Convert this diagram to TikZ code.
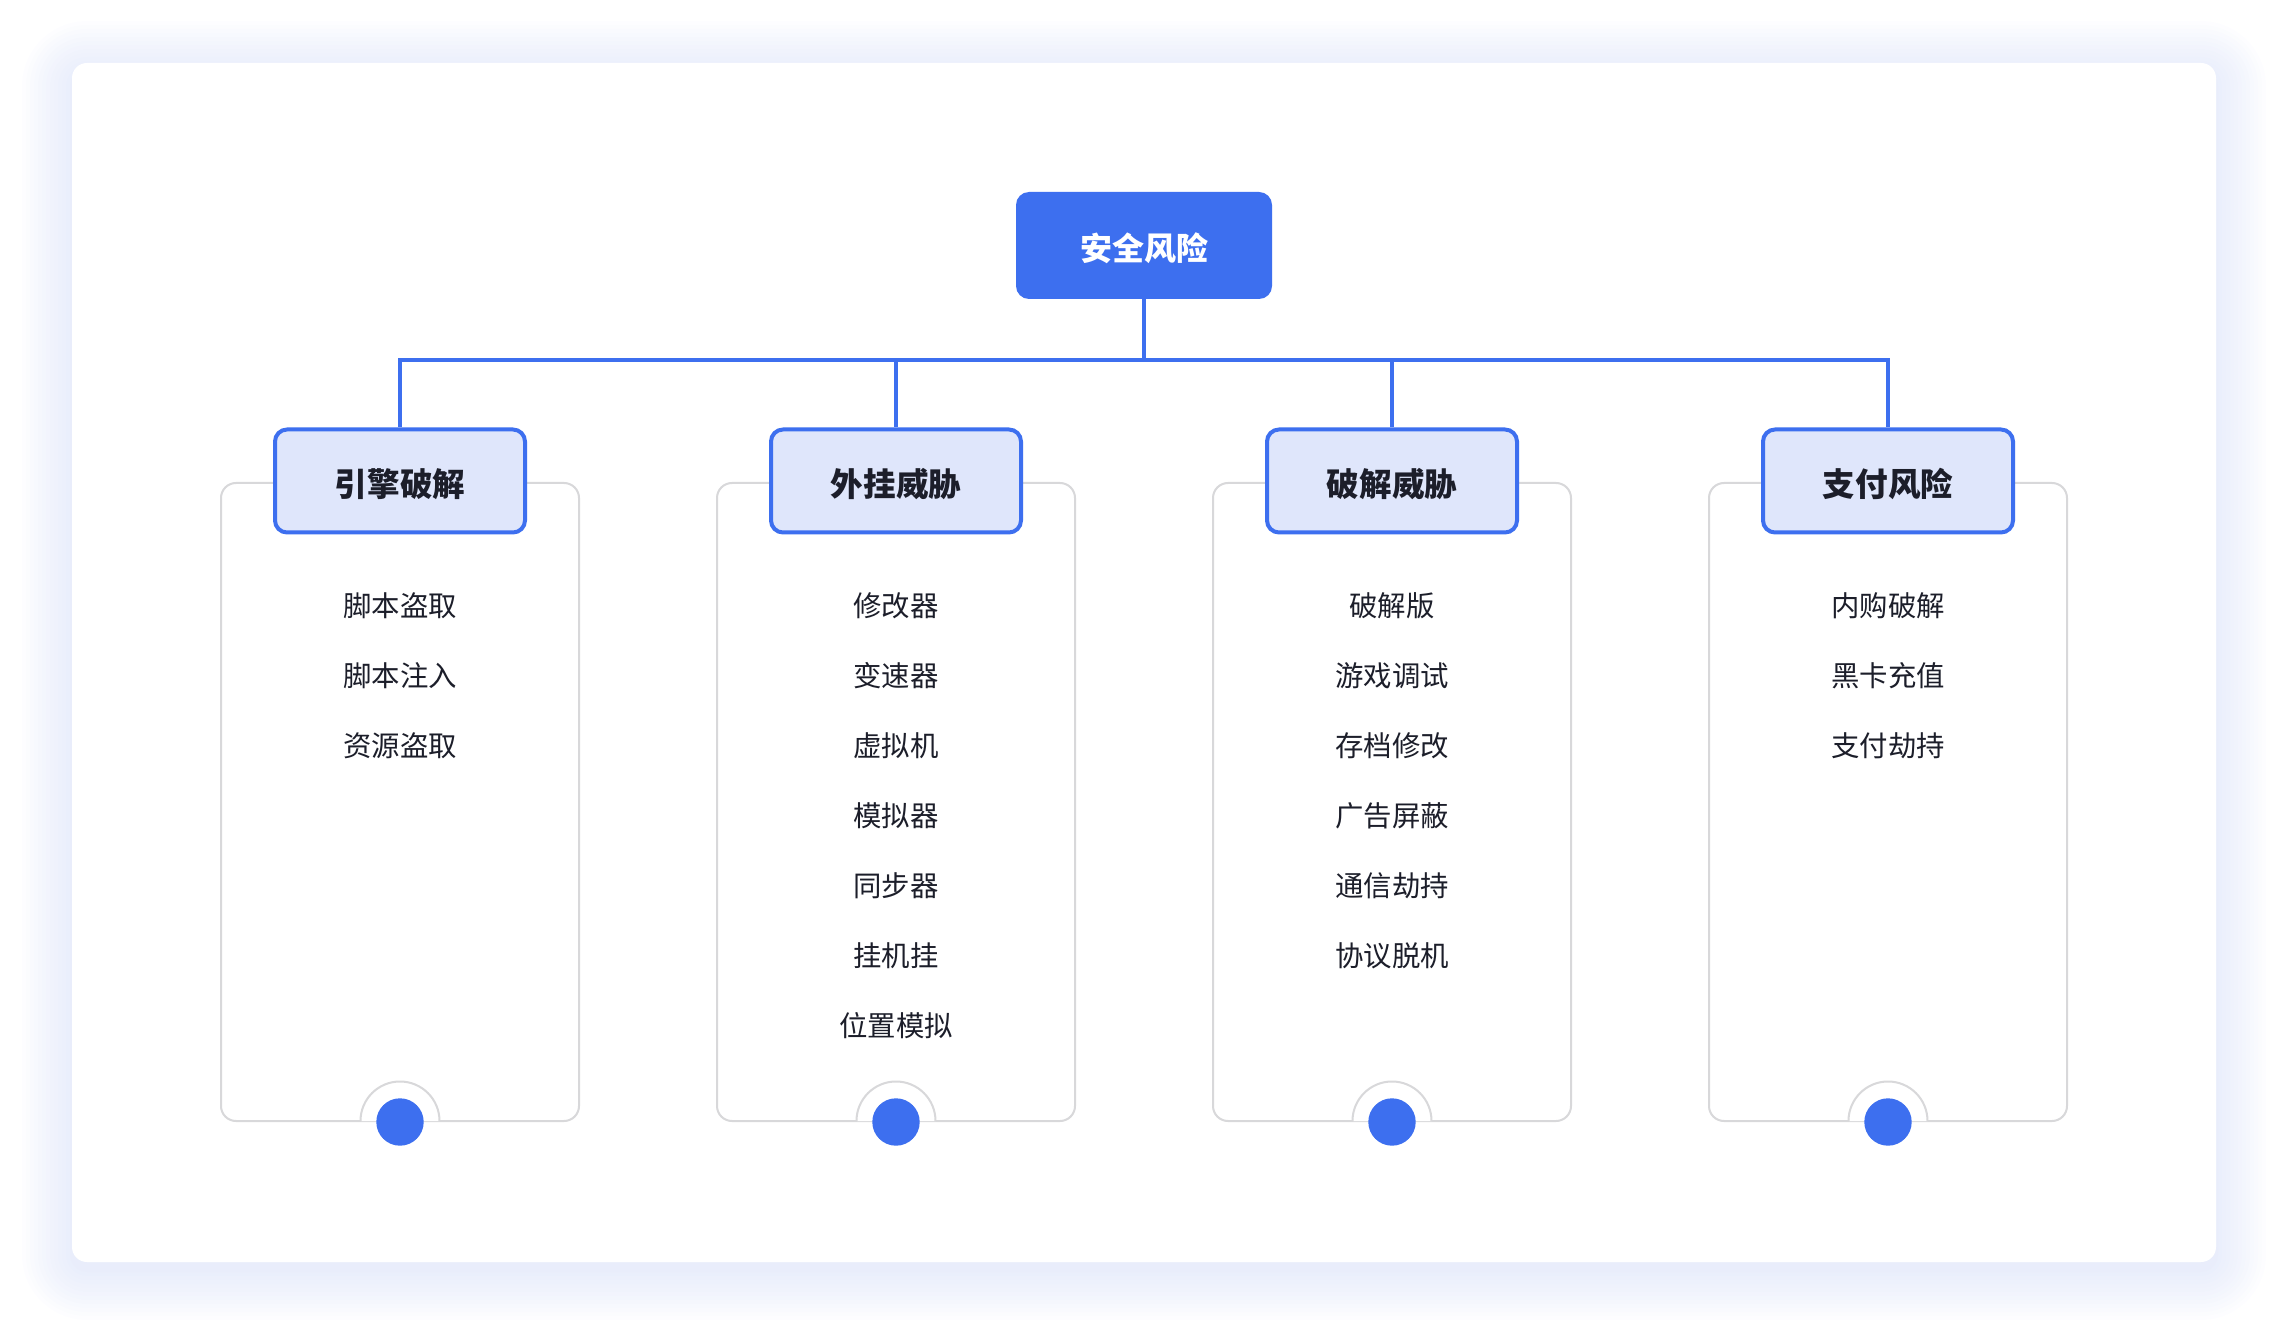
\documentclass[tikz,border=0pt]{standalone}
\usepackage{fontspec}
\setmainfont{Noto Sans CJK SC}
\usetikzlibrary{calc,positioning}
\definecolor{brand}{RGB}{61,111,239}
\definecolor{paleblue}{RGB}{223,230,251}
\definecolor{ink}{RGB}{28,30,42}
\definecolor{cardgray}{RGB}{216,216,218}
\definecolor{glow}{RGB}{196,208,245}

\begin{document}
\begin{tikzpicture}[
    x=0.5pt,y=-0.5pt,
    root/.style={fill=brand,text=white,rounded corners=6.5pt,minimum width=128pt,
      minimum height=53.5pt,inner sep=0pt,text height=17.1pt,text depth=1.9pt,
      font=\fontsize{16pt}{18pt}\selectfont\bfseries},
    cat/.style={draw=brand,line width=2pt,fill=paleblue,text=ink,rounded corners=6pt,
      minimum width=125pt,minimum height=51.5pt,inner sep=0pt,
      text height=17.3pt,text depth=2pt,
      font=\fontsize{16.3pt}{18pt}\selectfont\bfseries},
    item/.style={text=ink,inner sep=0pt,font=\fontsize{14.2pt}{16pt}\selectfont},
    link/.style={draw=brand,line width=1.7pt},
    cardline/.style={draw=cardgray,line width=1pt}
  ]
  \useasboundingbox (0,0) rectangle (2288,1342);

  % soft glow under the panel
  \foreach \r in {50,46,...,2} {
    \pgfmathsetmacro\rc{7.5+\r/2}
    \fill[glow,opacity=0.035,rounded corners=\rc pt] (72-\r,71-\r) rectangle (2216+\r,1270+\r);
  }
  \fill[white,rounded corners=7.5pt] (72,63) rectangle (2216,1262);

  \node[root] (risk) at (1144,245.5) {安全风险};
  \coordinate (hub) at (1144,360);
  \draw[link] (risk.south) -- (hub);

  \foreach \cx/\title/\items [count=\k] in {
      400/引擎破解/{脚本盗取,脚本注入,资源盗取},
      896/外挂威胁/{修改器,变速器,虚拟机,模拟器,同步器,挂机挂,位置模拟},
      1392/破解威胁/{破解版,游戏调试,存档修改,广告屏蔽,通信劫持,协议脱机},
      1888/支付风险/{内购破解,黑卡充值,支付劫持}} {
    % card with bump at the bottom
    \draw[cardline,rounded corners=7.5pt] (\cx-179,483) rectangle (\cx+179,1121);
    \fill[white] (\cx-39.5,1121) arc[start angle=180,end angle=360,radius=39.5] -- cycle;
    \draw[cardline] (\cx-39.5,1121) arc[start angle=180,end angle=360,radius=39.5];
    \fill[brand] (\cx,1122) circle[radius=23.7];
    \node[cat] (cat-\k) at (\cx,481) {\title};
    \draw[link] (hub) -| (cat-\k.north);
    \foreach \it [count=\j] in \items
      \node[item] (item-\k-\j) at (\cx,606+70*\j-70) {\it};
  }
\end{tikzpicture}
\end{document}
